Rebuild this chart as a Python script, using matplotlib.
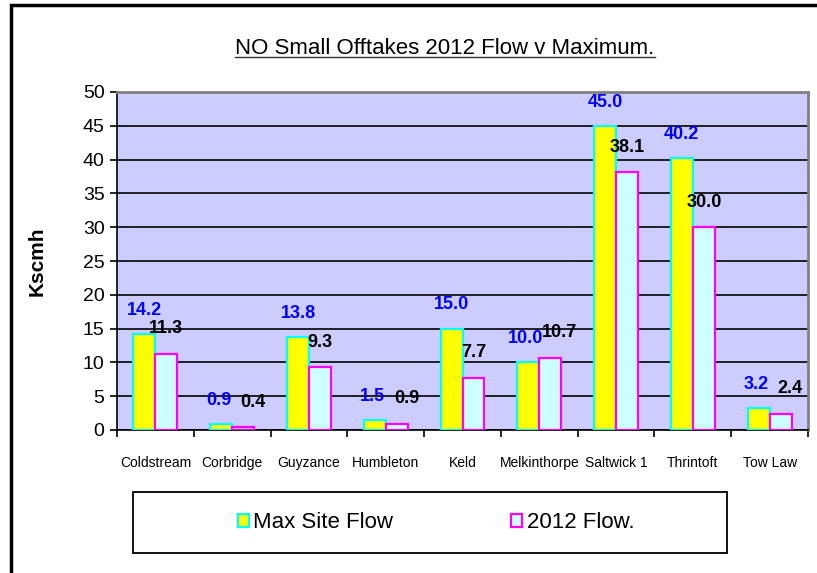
import numpy as np
import matplotlib
matplotlib.use("Agg")
import matplotlib.pyplot as plt
from matplotlib.patches import Patch, Rectangle
from matplotlib.lines import Line2D

plt.rcParams['font.family'] = ['Liberation Sans', 'DejaVu Sans']

sites = ["Coldstream", "Corbridge", "Guyzance", "Humbleton", "Keld",
         "Melkinthorpe", "Saltwick 1", "Thrintoft", "Tow Law"]
max_flow = [14.2, 0.9, 13.8, 1.5, 15.0, 10.0, 45.0, 40.2, 3.2]
flow_2012 = [11.3, 0.4, 9.3, 0.9, 7.7, 10.7, 38.1, 30.0, 2.4]

fig = plt.figure(figsize=(8.17, 5.73), dpi=100)
ax = fig.add_axes([117 / 817, 1 - 430 / 573, 691 / 817, 338 / 573])
ax.set_facecolor('#CCCCFF')

x = np.arange(len(sites))
w = 0.286
ax.bar(x - w / 2, max_flow, w, color='#FFFF00', edgecolor='#00FFFF', linewidth=1.6, zorder=3)
ax.bar(x + w / 2, flow_2012, w, color='#CCFFFF', edgecolor='#FF00FF', linewidth=1.6, zorder=3)

# data labels (nudge apart when the two values are close, like Excel does)
for xi, m, f in zip(x, max_flow, flow_2012):
    close = abs(m - f) < 2.5
    ax.annotate(f"{m:.1f}", (xi - w / 2, m), xytext=(-2 if close else 0, 17), textcoords='offset points',
                ha='center', va='center', color='#0000FF', fontsize=13, fontweight='bold', zorder=5)
    ax.annotate(f"{f:.1f}", (xi + w / 2, f), xytext=(7 if close else 0, 18), textcoords='offset points',
                ha='center', va='center', color='black', fontsize=13, fontweight='bold', zorder=5)

ax.set_xlim(-0.5, len(sites) - 0.5)
ax.set_ylim(0, 50)
ax.set_yticks(np.arange(0, 51, 5))
ax.yaxis.grid(True, color='black', linewidth=1.2, zorder=1)
ax.set_axisbelow(True)
ax.tick_params(axis='y', labelsize=14, direction='out', length=5, width=1.2, pad=4)

ax.set_xticks(x)
ax.set_xticklabels(sites, fontsize=10)
ax.set_xticks(np.arange(-0.5, len(sites), 1), minor=True)
ax.tick_params(axis='x', which='major', length=0, pad=19)
ax.tick_params(axis='x', which='minor', direction='out', length=5, width=1.2)

ax.spines['left'].set_color('black')
ax.spines['bottom'].set_color('black')
ax.spines['left'].set_linewidth(1.2)
ax.spines['bottom'].set_linewidth(1.2)
ax.spines['top'].set_color('#808080')
ax.spines['right'].set_color('#808080')
ax.spines['top'].set_linewidth(2)
ax.spines['right'].set_linewidth(2)

ax.set_ylabel("Kscmh", fontsize=15, fontweight='bold', labelpad=26)

# title with underline
title = fig.text(445 / 817, 1 - 48 / 573, "NO Small Offtakes 2012 Flow v Maximum.",
                 ha='center', va='center', fontsize=16)
fig.canvas.draw()
bb = title.get_window_extent().transformed(fig.transFigure.inverted())
fig.add_artist(Line2D([bb.x0, bb.x1], [bb.y0 + 0.002, bb.y0 + 0.002], color='#333333',
                      linewidth=1, transform=fig.transFigure))

# legend box
fig.add_artist(Rectangle((133 / 817, 1 - 553 / 573), 594 / 817, 61 / 573, transform=fig.transFigure,
                         fill=False, edgecolor='black', linewidth=1.3))
handles = [Patch(facecolor='#FFFF00', edgecolor='#00FFFF', linewidth=1.6, label='Max Site Flow'),
           Patch(facecolor='#CCFFFF', edgecolor='#FF00FF', linewidth=1.6, label='2012 Flow.')]
fig.legend(handles=handles, loc='center', bbox_to_anchor=(436 / 817, 1 - 523 / 573), ncol=2,
           frameon=False, fontsize=16, handlelength=0.5, handleheight=0.5, handletextpad=0.2,
           columnspacing=5.3)

# outer border
fig.add_artist(Rectangle((11 / 817, -0.1), 1.2, 1 - 5 / 573 + 0.1, transform=fig.transFigure,
                         fill=False, edgecolor='black', linewidth=2.5))

fig.savefig("out.png", dpi=100)
